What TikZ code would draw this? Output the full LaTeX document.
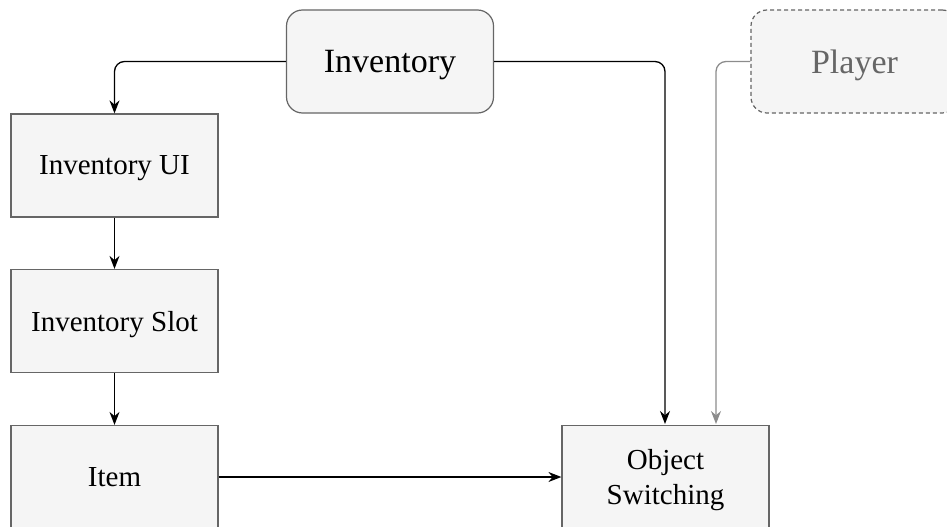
\documentclass[tikz,border=0pt]{standalone}
\usepackage{fontspec}
\setmainfont{Liberation Serif}
\usetikzlibrary{arrows.meta}
\definecolor{boxfill}{HTML}{F5F5F5}
\definecolor{boxline}{HTML}{666666}
\definecolor{playerline}{HTML}{8C8C8C}
\begin{document}
\begin{tikzpicture}[x=1pt,y=-1pt]
		\tikzset{block/.style = {shape=rectangle, draw=boxline, fill=boxfill, line width=1.2pt,
				minimum width=207pt, minimum height=103pt, inner sep=0pt, align=center, text depth=0pt,
				font=\fontsize{29}{35}\selectfont}}
		\tikzset{rblock/.style = {block, rounded corners=16pt, font=\fontsize{34}{40}\selectfont}}
		\tikzset{link/.style = {line width=1.3pt, rounded corners=10pt, -{Stealth[length=13pt,width=10pt]}}}

		\useasboundingbox (0,0) rectangle (947,527);
		\clip (0,0) rectangle (947,527);

		\node[rblock] (Inv) at (390,61.5) {Inventory};
		\node[rblock, dashed, dash pattern=on 4pt off 3pt, text=boxline] (Player) at (854.5,61.5) {Player};

		\node[block] (InvUI) at (114.5,165.5) {Inventory UI};
		\node[block] (Slot) at (114.5,321) {Inventory Slot};
		\node[block] (Item) at (114.5,477) {Item};
		\node[block] (Switch) at (665.5,477) {Object\\Switching};

		\coordinate (SwA) at (665,424);
		\coordinate (SwB) at (716,424);

		\draw[link] (Inv.west) -| (InvUI.north);
		\draw[link] (Inv.east) -| (SwA);
		\draw[link, draw=playerline, -{Stealth[length=13pt,width=10pt,fill=playerline]}] (Player.west) -| (SwB);

		\draw[link] (InvUI)--(Slot);
		\draw[link] (Slot)--(Item);
		\draw[link] (Item)--(Switch);

	\end{tikzpicture}
\end{document}
